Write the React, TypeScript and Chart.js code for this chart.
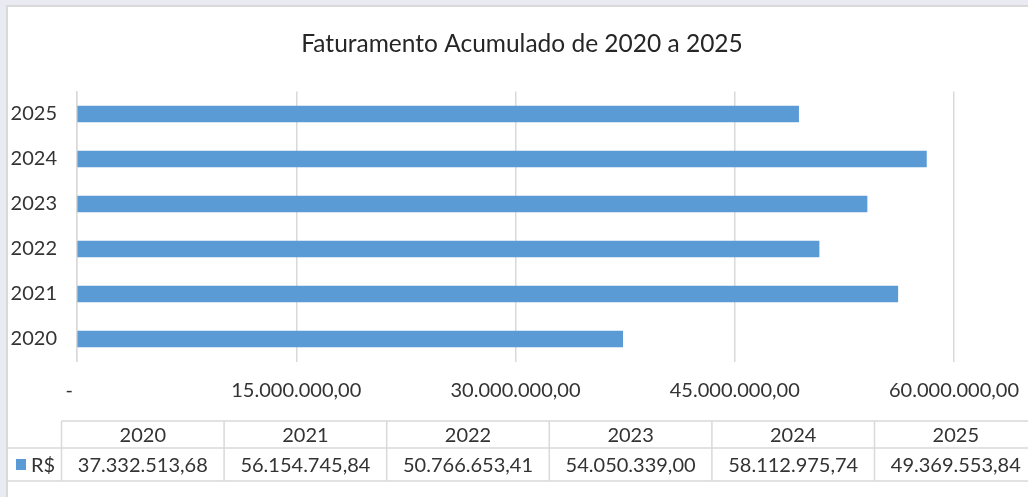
import React, { useEffect, useRef } from "react";
import { Chart, registerables } from "chart.js";

Chart.register(...registerables);

const chartTitle = "Faturamento Acumulado de 2020 a 2025";
const years = ["2020", "2021", "2022", "2023", "2024", "2025"];
const values = [37332513.68, 56154745.84, 50766653.41, 54050339.0, 58112975.74, 49369553.84];
const seriesName = "R$";
const axisMin = 0;
const axisMax = 60000000;
const axisStep = 15000000;

const FONT = "Lato, 'Open Sans', sans-serif";
const TEXT = "#333333";
const LINE = "#d9d9d9";
const BAR = "#5b9bd5";

function fmt(v: number): string {
  const [i, d] = Math.abs(v).toFixed(2).split(".");
  return i.replace(/\B(?=(\d{3})+(?!\d))/g, ".") + "," + d;
}

const decorPlugin = {
  id: "decor",
  beforeDraw(chart: any) {
    const ctx = chart.ctx;
    const W = chart.width;
    const H = chart.height;
    ctx.save();
    ctx.fillStyle = "#ffffff";
    ctx.fillRect(0, 0, W, H);
    ctx.fillStyle = "#eaeaf2";
    ctx.fillRect(0, 0, 6, H);
    ctx.fillRect(0, 0, W, 5);
    ctx.strokeStyle = LINE;
    ctx.lineWidth = 2;
    ctx.beginPath();
    ctx.moveTo(7, H);
    ctx.lineTo(7, 6);
    ctx.lineTo(W, 6);
    ctx.stroke();
    ctx.restore();
  },
  afterDraw(chart: any) {
    const ctx = chart.ctx;
    const W = chart.width;
    ctx.save();
    // title
    ctx.fillStyle = "#262626";
    ctx.font = `24.5px ${FONT}`;
    ctx.textAlign = "center";
    ctx.textBaseline = "middle";
    ctx.fillText(chartTitle, 522, 44);

    // data table
    const left = 61.5;
    const colW = 162.6;
    const yTop = 421;
    const yMid = 448;
    const yBot = 481;
    ctx.strokeStyle = LINE;
    ctx.lineWidth = 1.5;
    ctx.beginPath();
    ctx.moveTo(left, yTop);
    ctx.lineTo(W, yTop);
    ctx.moveTo(8, yMid);
    ctx.lineTo(W, yMid);
    ctx.moveTo(8, yBot);
    ctx.lineTo(W, yBot);
    for (let i = 0; i <= years.length; i++) {
      const x = left + i * colW;
      if (x > W) break;
      ctx.moveTo(x, yTop);
      ctx.lineTo(x, yBot);
    }
    ctx.stroke();

    ctx.font = `20px ${FONT}`;
    ctx.fillStyle = TEXT;
    ctx.textAlign = "center";
    ctx.textBaseline = "middle";
    years.forEach((y, i) => {
      const cx = left + colW * (i + 0.5);
      ctx.fillText(y, cx, (yTop + yMid) / 2 + 1);
      ctx.fillText(fmt(values[i]), cx, (yMid + yBot) / 2 + 1);
    });
    // legend key
    ctx.fillStyle = BAR;
    ctx.fillRect(16, 459, 10, 11);
    ctx.fillStyle = TEXT;
    ctx.textAlign = "left";
    ctx.fillText(seriesName, 31, (yMid + yBot) / 2 + 1);
    ctx.restore();
  },
};

export default function App() {
  const ref = useRef<HTMLCanvasElement | null>(null);
  useEffect(() => {
    document.body.style.margin = "0";
    const canvas = ref.current!;
    const chart = new Chart(canvas, {
      type: "bar",
      data: {
        labels: years,
        datasets: [
          {
            label: seriesName,
            data: values,
            backgroundColor: BAR,
            borderWidth: 0,
            barThickness: 16,
          },
        ],
      },
      options: {
        indexAxis: "y",
        responsive: false,
        animation: false,
        maintainAspectRatio: false,
        layout: { padding: { left: 0, top: 91.5, right: 74, bottom: 0 } },
        plugins: {
          legend: { display: false },
          tooltip: { enabled: false },
          title: { display: false },
        },
        scales: {
          x: {
            min: axisMin,
            max: axisMax,
            afterFit: (s: any) => {
              s.height = 135.5;
              s.paddingLeft = 0;
              s.paddingRight = 0;
            },
            afterBuildTicks: (s: any) => {
              const t = [];
              for (let v = axisMin; v <= axisMax; v += axisStep) t.push({ value: v });
              s.ticks = t;
            },
            grid: { color: LINE, lineWidth: 1.5, drawTicks: false },
            border: { display: false },
            ticks: {
              padding: 17.5,
              color: TEXT,
              font: { family: FONT, size: 20 },
              maxRotation: 0,
              autoSkip: false,
              callback: (v: any) => (Number(v) === 0 ? "-   " : fmt(Number(v))),
            },
          },
          y: {
            reverse: true,
            afterFit: (s: any) => {
              s.width = 77;
              s.paddingTop = 0;
              s.paddingBottom = 0;
            },
            grid: { display: false, drawTicks: false },
            border: { display: true, color: LINE, width: 1.5 },
            ticks: {
              padding: 20,
              color: TEXT,
              font: { family: FONT, size: 20 },
            },
          },
        },
      },
      plugins: [decorPlugin],
    } as any);
    return () => chart.destroy();
  }, []);
  return (
    <div style={{ position: "absolute", left: 0, top: 0 }}>
      <canvas ref={ref} width={1028} height={497} style={{ display: "block", width: 1028, height: 497 }} />
    </div>
  );
}
